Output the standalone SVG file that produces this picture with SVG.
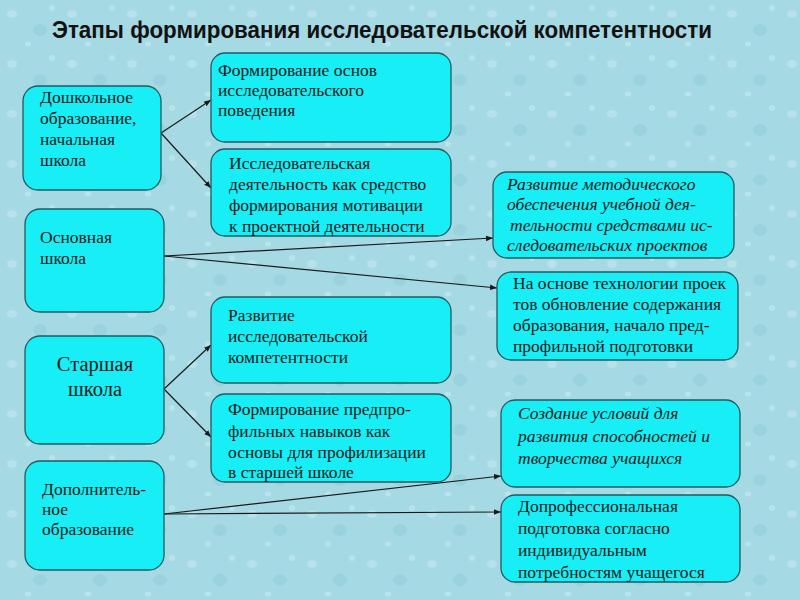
<svg xmlns="http://www.w3.org/2000/svg" width="800" height="600" viewBox="0 0 800 600">
<defs>
<style>
.bx{fill:#17eef5;stroke:#1d5c60;stroke-width:1.3}
.t{font-family:"Liberation Serif","Times New Roman",serif;font-size:17.5px;fill:#1a1a1a}
.i{font-style:italic}
.big{font-size:20.5px}
.c{stroke:#1a1a1a;stroke-width:1.2;fill:none;marker-end:url(#ah)}
</style>
<marker id="ah" viewBox="0 0 10 10" refX="10" refY="5" markerWidth="7" markerHeight="7" orient="auto" markerUnits="userSpaceOnUse"><path d="M0,1 L10,5 L0,9 z" fill="#1a1a1a"/></marker>
<pattern id="drops" width="60" height="50" patternUnits="userSpaceOnUse">
<rect width="60" height="50" fill="#a5d9e4"/>
<ellipse cx="12" cy="14" rx="5" ry="4" fill="#bfe6ee" opacity="0.7"/>
<ellipse cx="40" cy="30" rx="7" ry="6" fill="#8fcbd8" opacity="0.5"/>
<ellipse cx="28" cy="44" rx="3" ry="2.5" fill="#c4e9f0" opacity="0.7"/>
<ellipse cx="52" cy="8" rx="3" ry="3" fill="#c4e9f0" opacity="0.6"/>
</pattern>
</defs>
<rect width="800" height="600" fill="url(#drops)"/>
<text x="52" y="38" font-family="Liberation Sans,Arial,sans-serif" font-weight="bold" font-size="23" fill="#111" textLength="660" lengthAdjust="spacingAndGlyphs">Этапы формирования исследовательской компетентности</text>

<g id="connectors">
<line class="c" x1="161" y1="133" x2="211" y2="100"/>
<line class="c" x1="161" y1="133" x2="211" y2="188"/>
<line class="c" x1="164" y1="256" x2="493" y2="238"/>
<line class="c" x1="164" y1="256" x2="497" y2="288"/>
<line class="c" x1="164" y1="389" x2="211" y2="345"/>
<line class="c" x1="164" y1="389" x2="211" y2="437"/>
<line class="c" x1="164" y1="514" x2="501" y2="476"/>
<line class="c" x1="164" y1="514" x2="501" y2="512"/>
</g>

<g id="n-preschool">
<rect class="bx" x="23" y="86" width="138" height="104" rx="15"/>
<text class="t" x="40" y="103">Дошкольное</text>
<text class="t" x="40" y="124">образование,</text>
<text class="t" x="40" y="145">начальная</text>
<text class="t" x="40" y="166">школа</text>
</g>
<g id="n-basic">
<rect class="bx" x="25" y="209" width="139" height="103" rx="15"/>
<text class="t" x="40" y="243">Основная</text>
<text class="t" x="40" y="264">школа</text>
</g>
<g id="n-senior">
<rect class="bx" x="25" y="336" width="139" height="108" rx="15"/>
<text class="t big" x="95" y="371" text-anchor="middle">Старшая</text>
<text class="t big" x="95" y="396" text-anchor="middle">школа</text>
</g>
<g id="n-extra">
<rect class="bx" x="25" y="461" width="139" height="109" rx="15"/>
<text class="t" x="42" y="495">Дополнитель-</text>
<text class="t" x="42" y="515">ное</text>
<text class="t" x="42" y="535">образование</text>
</g>

<g id="n-m1">
<rect class="bx" x="211" y="53" width="240" height="89" rx="14"/>
<text class="t" x="218" y="76">Формирование основ</text>
<text class="t" x="218" y="96">исследовательского</text>
<text class="t" x="218" y="116">поведения</text>
</g>
<g id="n-m2">
<rect class="bx" x="211" y="149" width="240" height="87" rx="14"/>
<text class="t" x="229" y="169">Исследовательская</text>
<text class="t" x="229" y="190">деятельность как средство</text>
<text class="t" x="229" y="211">формирования мотивации</text>
<text class="t" x="229" y="232">к проектной деятельности</text>
</g>
<g id="n-m3">
<rect class="bx" x="211" y="297" width="240" height="86" rx="14"/>
<text class="t" x="228" y="321">Развитие</text>
<text class="t" x="228" y="342">исследовательской</text>
<text class="t" x="228" y="363">компетентности</text>
</g>
<g id="n-m4">
<rect class="bx" x="211" y="394" width="240" height="88" rx="14"/>
<text class="t" x="228" y="415">Формирование предпро-</text>
<text class="t" x="228" y="437">фильных навыков как</text>
<text class="t" x="228" y="458">основы для профилизации</text>
<text class="t" x="228" y="478">в старшей школе</text>
</g>

<g id="n-r1">
<rect class="bx" x="493" y="172" width="241" height="86" rx="14"/>
<text class="t i" x="507" y="190">Развитие  методического</text>
<text class="t i" x="507" y="210">обеспечения учебной дея-</text>
<text class="t i" x="510" y="231">тельности средствами ис-</text>
<text class="t i" x="507" y="251">следовательских проектов</text>
</g>
<g id="n-r2">
<rect class="bx" x="497" y="272" width="241" height="88" rx="14"/>
<text class="t" x="513" y="289">На основе технологии проек</text>
<text class="t" x="513" y="310">тов обновление содержания</text>
<text class="t" x="513" y="331">образования, начало пред-</text>
<text class="t" x="513" y="352">профильной подготовки</text>
</g>
<g id="n-r3">
<rect class="bx" x="501" y="400" width="239" height="87" rx="14"/>
<text class="t i" x="518" y="419">Создание условий для</text>
<text class="t i" x="518" y="442">развития способностей и</text>
<text class="t i" x="518" y="464">творчества учащихся</text>
</g>
<g id="n-r4">
<rect class="bx" x="501" y="495" width="239" height="87" rx="14"/>
<text class="t" x="518" y="512">Допрофессиональная</text>
<text class="t" x="518" y="534">подготовка согласно</text>
<text class="t" x="518" y="556">индивидуальным</text>
<text class="t" x="518" y="578">потребностям учащегося</text>
</g>
</svg>
